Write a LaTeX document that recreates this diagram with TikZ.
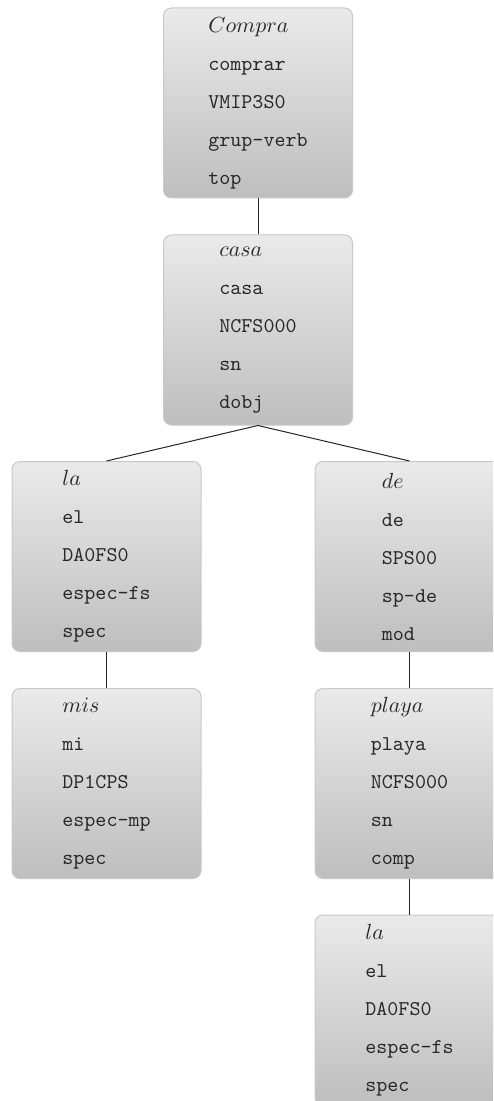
\documentclass[tikz,border=0pt]{standalone}
\usetikzlibrary{shadings}
\definecolor{boxtop}{RGB}{234,234,234}
\definecolor{boxbot}{RGB}{190,190,190}
\definecolor{boxedge}{RGB}{200,200,200}
\definecolor{txt}{RGB}{40,40,40}
\tikzset{
  wbox/.style={rectangle, rounded corners=4pt, draw=boxedge, line width=0.5pt,
    top color=boxtop, bottom color=boxbot, minimum width=94.5pt, minimum height=95pt,
    align=left, inner sep=0pt, text=txt, font=\fontsize{10.5}{19}\selectfont\ttfamily},
  link/.style={draw=black!85, line width=0.5pt}
}
\begin{document}
\begin{tikzpicture}[x=0.5pt,y=-0.5pt]
\useasboundingbox (0,0) rectangle (493,1101);
\clip (0,0) rectangle (493,1101);
\node[wbox] (compra) at (258,103) {$Compra$\\comprar\\VMIP3S0\\grup-verb\\top};
\node[wbox] (casa) at (258,330) {$casa$\\casa\\NCFS000\\sn\\dobj};
\node[wbox] (la) at (106.5,556.5) {$la$\\el\\DA0FS0\\espec-fs\\spec};
\node[wbox] (de) at (409.5,556.5) {$de$\\de\\SPS00\\sp-de\\mod};
\node[wbox] (mis) at (106.5,783.5) {$mis$\\mi\\DP1CPS\\espec-mp\\spec};
\node[wbox] (playa) at (409.5,783.5) {$playa$\\playa\\NCFS000\\sn\\comp};
\node[wbox] (laii) at (409.5,1010) {$la$\\el\\DA0FS0\\espec-fs\\spec};
\draw[link] (compra.south) -- (casa.north);
\draw[link] (casa.south) -- (la.north);
\draw[link] (casa.south) -- (de.north);
\draw[link] (la.south) -- (mis.north);
\draw[link] (de.south) -- (playa.north);
\draw[link] (playa.south) -- (laii.north);
\end{tikzpicture}
\end{document}
